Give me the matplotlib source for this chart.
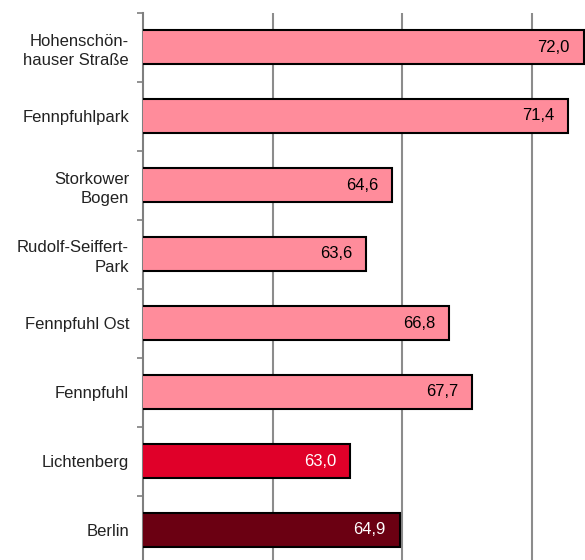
import matplotlib
matplotlib.use('Agg')
import matplotlib.pyplot as plt
from matplotlib import font_manager

# data, top to bottom
categories = ['Hohenschön-\nhauser Straße', 'Fennpfuhlpark', 'Storkower\nBogen',
              'Rudolf-Seiffert-\nPark', 'Fennpfuhl Ost', 'Fennpfuhl', 'Lichtenberg', 'Berlin']
values = [72.0, 71.4, 64.6, 63.6, 66.8, 67.7, 63.0, 64.9]
bar_colors = ['#FF8C9B'] * 6 + ['#E00029', '#6B0012']
text_colors = ['black'] * 6 + ['white', 'white']
grid_values = [60, 65, 70]

names = {f.name for f in font_manager.fontManager.ttflist}
family = 'Liberation Sans Narrow' if 'Liberation Sans Narrow' in names else 'Liberation Sans'
plt.rcParams['font.family'] = [family, 'DejaVu Sans']

W, H = 585, 560
fig = plt.figure(figsize=(W / 100, H / 100), dpi=100)
ax = fig.add_axes([143 / W, -4.5 / H, 442 / W, 552 / H])

ypos = list(range(len(categories)))
ax.barh(ypos, values, height=0.5, color=bar_colors, edgecolor='black',
        linewidth=1.5, zorder=3)
for y, v, tc in zip(ypos, values, text_colors):
    ax.annotate(f'{v:.1f}'.replace('.', ','), (v, y), xytext=(-10, 0),
                textcoords='offset points', ha='right', va='center',
                fontsize=12, color=tc, zorder=4)

for g in grid_values:
    ax.axvline(g, color='#8C8C8C', linewidth=1.5, zorder=1)

ax.set_xlim(55, 72.05)
ax.set_ylim(len(categories) - 0.5, -0.5)

ax.set_yticks(ypos)
ax.set_yticklabels(categories, fontsize=12, color='#222222', linespacing=1.35)
ax.tick_params(axis='y', which='major', length=0, pad=10)
ax.set_yticks([i - 0.5 for i in range(len(categories) + 1)], minor=True)
ax.tick_params(axis='y', which='minor', length=4, width=1.2, color='#7F7F7F')
ax.set_xticks([])

for s in ['top', 'right', 'bottom']:
    ax.spines[s].set_visible(False)
ax.spines['left'].set_color('#7F7F7F')
ax.spines['left'].set_linewidth(1.5)

fig.savefig('out.png', dpi=100)
